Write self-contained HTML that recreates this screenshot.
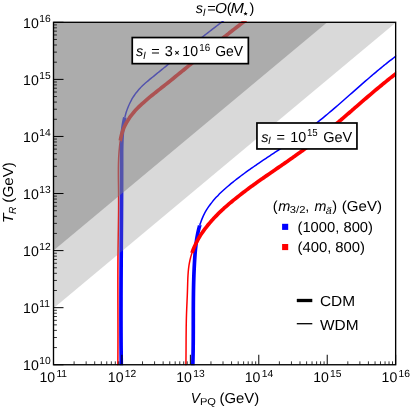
<!DOCTYPE html>
<html><head><meta charset="utf-8">
<style>
html,body{margin:0;padding:0;background:#fff;}
svg{display:block;will-change:transform;}
text{font-family:"Liberation Sans",sans-serif;fill:#000;text-rendering:geometricPrecision;}
</style></head>
<body>
<svg width="411" height="409" viewBox="0 0 411 409">
<rect x="0" y="0" width="411" height="409" fill="#fff"/>
<defs><clipPath id="pc"><rect x="53.00" y="21.30" width="343.15" height="343.95"/></clipPath></defs>
<g clip-path="url(#pc)">
<path d="M117.82,365.98 C117.83,365.48 117.84,363.97 117.85,362.97 C117.86,361.97 117.87,360.97 117.88,359.97 C117.88,358.97 117.89,357.97 117.90,356.97 C117.90,355.97 117.91,354.97 117.92,353.96 C117.92,352.96 117.93,351.96 117.93,350.96 C117.94,349.96 117.94,348.96 117.94,347.96 C117.95,346.96 117.95,345.96 117.95,344.96 C117.96,343.96 117.96,342.95 117.96,341.95 C117.96,340.95 117.96,339.95 117.96,338.95 C117.96,337.95 117.97,336.95 117.97,335.95 C117.97,334.95 117.97,333.95 117.97,332.95 C117.97,331.94 117.97,330.94 117.96,329.94 C117.96,328.94 117.96,327.94 117.96,326.94 C117.96,325.94 117.96,324.94 117.96,323.94 C117.96,322.94 117.95,321.94 117.95,320.93 C117.95,319.93 117.95,318.93 117.95,317.93 C117.94,316.93 117.94,315.93 117.94,314.93 C117.94,313.93 117.93,312.93 117.93,311.93 C117.93,310.93 117.93,309.92 117.93,308.92 C117.92,307.92 117.92,306.92 117.92,305.92 C117.92,304.92 117.91,303.92 117.91,302.92 C117.91,301.92 117.91,300.92 117.90,299.92 C117.90,298.91 117.90,297.91 117.90,296.91 C117.90,295.91 117.89,294.91 117.89,293.91 C117.89,292.91 117.89,291.91 117.89,290.91 C117.89,289.91 117.89,288.91 117.89,287.90 C117.88,286.90 117.88,285.90 117.88,284.90 C117.88,283.90 117.88,282.90 117.88,281.90 C117.88,280.90 117.88,279.90 117.89,278.90 C117.89,277.90 117.89,276.89 117.89,275.89 C117.89,274.89 117.89,273.89 117.90,272.89 C117.90,271.89 117.90,270.89 117.90,269.89 C117.91,268.89 117.91,267.89 117.92,266.89 C117.92,265.88 117.92,264.88 117.93,263.88 C117.94,262.88 117.94,261.88 117.95,260.88 C117.95,259.88 117.96,258.88 117.97,257.88 C117.98,256.88 117.98,255.88 117.99,254.87 C118.00,253.87 118.01,252.87 118.02,251.87 C118.03,250.87 118.04,249.87 118.05,248.87 C118.06,247.87 118.08,246.87 118.09,245.87 C118.10,244.87 118.11,243.87 118.13,242.86 C118.14,241.86 118.16,240.86 118.17,239.86 C118.19,238.86 118.20,237.86 118.22,236.86 C118.23,235.86 118.25,234.86 118.26,233.86 C118.28,232.86 118.29,231.86 118.31,230.85 C118.33,229.85 118.34,228.85 118.36,227.85 C118.37,226.85 118.39,225.85 118.40,224.85 C118.42,223.85 118.43,222.85 118.44,221.85 C118.46,220.85 118.47,219.85 118.48,218.85 C118.50,217.84 118.51,216.84 118.52,215.84 C118.53,214.84 118.54,213.84 118.55,212.84 C118.56,211.84 118.57,210.84 118.58,209.84 C118.58,208.84 118.59,207.84 118.59,206.83 C118.60,205.83 118.60,204.83 118.61,203.83 C118.61,202.83 118.61,201.83 118.61,200.83 C118.61,199.83 118.61,198.83 118.60,197.83 C118.60,196.83 118.59,195.82 118.59,194.82 C118.58,193.82 118.57,192.82 118.56,191.82 C118.55,190.82 118.54,189.82 118.53,188.82 C118.51,187.82 118.50,186.82 118.49,185.82 C118.47,184.82 118.46,183.81 118.45,182.81 C118.43,181.81 118.42,180.81 118.41,179.81 C118.40,178.81 118.39,177.81 118.38,176.81 C118.38,175.81 118.37,174.81 118.37,173.81 C118.37,172.80 118.37,171.80 118.37,170.80 C118.37,169.80 118.38,168.80 118.39,167.80 C118.40,166.80 118.42,165.80 118.44,164.80 C118.46,163.80 118.49,162.80 118.52,161.80 C118.55,160.80 118.59,159.80 118.63,158.80 C118.67,157.80 118.72,156.80 118.78,155.80 C118.84,154.80 118.90,153.80 118.97,152.80 C119.05,151.80 119.12,150.80 119.21,149.81 C119.30,148.81 119.40,147.81 119.50,146.82 C119.61,145.82 119.73,144.81 119.85,143.84 C119.98,142.87 120.20,141.47 120.26,141.00" fill="none" stroke="#ff0000" stroke-width="1.50" stroke-linecap="butt" stroke-linejoin="round"/>
<path d="M121.28,366.14 C121.27,365.64 121.25,364.14 121.24,363.14 C121.23,362.13 121.22,361.13 121.21,360.13 C121.20,359.13 121.19,358.13 121.18,357.13 C121.17,356.13 121.16,355.13 121.15,354.13 C121.14,353.13 121.13,352.13 121.12,351.12 C121.11,350.12 121.10,349.12 121.09,348.12 C121.09,347.12 121.08,346.12 121.07,345.12 C121.07,344.12 121.06,343.12 121.05,342.12 C121.05,341.11 121.04,340.11 121.04,339.11 C121.03,338.11 121.03,337.11 121.02,336.11 C121.02,335.11 121.01,334.11 121.01,333.11 C121.00,332.11 121.00,331.10 121.00,330.10 C120.99,329.10 120.99,328.10 120.99,327.10 C120.98,326.10 120.98,325.10 120.98,324.10 C120.98,323.10 120.98,322.10 120.98,321.09 C120.97,320.09 120.97,319.09 120.97,318.09 C120.97,317.09 120.97,316.09 120.97,315.09 C120.97,314.09 120.97,313.09 120.97,312.09 C120.97,311.08 120.97,310.08 120.97,309.08 C120.97,308.08 120.97,307.08 120.98,306.08 C120.98,305.08 120.98,304.08 120.98,303.08 C120.98,302.08 120.98,301.07 120.99,300.07 C120.99,299.07 120.99,298.07 120.99,297.07 C121.00,296.07 121.00,295.07 121.00,294.07 C121.01,293.07 121.01,292.07 121.01,291.06 C121.02,290.06 121.02,289.06 121.02,288.06 C121.03,287.06 121.03,286.06 121.04,285.06 C121.04,284.06 121.05,283.06 121.05,282.06 C121.06,281.05 121.06,280.05 121.06,279.05 C121.07,278.05 121.08,277.05 121.08,276.05 C121.09,275.05 121.09,274.05 121.10,273.05 C121.10,272.05 121.11,271.04 121.11,270.04 C121.12,269.04 121.12,268.04 121.13,267.04 C121.14,266.04 121.14,265.04 121.15,264.04 C121.16,263.04 121.16,262.04 121.17,261.03 C121.17,260.03 121.18,259.03 121.19,258.03 C121.19,257.03 121.20,256.03 121.21,255.03 C121.21,254.03 121.22,253.03 121.23,252.03 C121.23,251.02 121.24,250.02 121.25,249.02 C121.25,248.02 121.26,247.02 121.27,246.02 C121.27,245.02 121.28,244.02 121.29,243.02 C121.29,242.02 121.30,241.01 121.31,240.01 C121.31,239.01 121.32,238.01 121.33,237.01 C121.34,236.01 121.34,235.01 121.35,234.01 C121.36,233.01 121.36,232.01 121.37,231.00 C121.38,230.00 121.38,229.00 121.39,228.00 C121.40,227.00 121.40,226.00 121.41,225.00 C121.42,224.00 121.42,223.00 121.43,222.00 C121.44,221.00 121.44,219.99 121.45,218.99 C121.45,217.99 121.46,216.99 121.47,215.99 C121.47,214.99 121.48,213.99 121.48,212.99 C121.49,211.99 121.50,210.99 121.50,209.98 C121.51,208.98 121.51,207.98 121.52,206.98 C121.52,205.98 121.53,204.98 121.54,203.98 C121.54,202.98 121.55,201.98 121.55,200.98 C121.56,199.97 121.56,198.97 121.56,197.97 C121.57,196.97 121.57,195.97 121.58,194.97 C121.58,193.97 121.59,192.97 121.59,191.97 C121.59,190.97 121.60,189.96 121.60,188.96 C121.61,187.96 121.61,186.96 121.61,185.96 C121.61,184.96 121.62,183.96 121.62,182.96 C121.62,181.96 121.63,180.96 121.63,179.95 C121.63,178.95 121.63,177.95 121.63,176.95 C121.64,175.95 121.64,174.95 121.64,173.95 C121.64,172.95 121.64,171.95 121.64,170.95 C121.64,169.94 121.64,168.94 121.64,167.94 C121.65,166.94 121.65,165.94 121.65,164.94 C121.65,163.94 121.64,162.94 121.64,161.94 C121.64,160.94 121.64,159.93 121.64,158.93 C121.64,157.93 121.64,156.93 121.64,155.93 C121.64,154.93 121.64,153.93 121.64,152.93 C121.65,151.93 121.65,150.93 121.66,149.92 C121.67,148.92 121.68,147.92 121.70,146.92 C121.72,145.92 121.74,144.92 121.77,143.92 C121.80,142.92 121.83,141.92 121.87,140.92 C121.91,139.92 121.96,138.92 122.02,137.92 C122.07,136.92 122.14,135.92 122.21,134.92 C122.29,133.92 122.37,132.93 122.47,131.93 C122.56,130.93 122.67,129.94 122.79,128.94 C122.90,127.95 123.03,126.96 123.18,125.97 C123.32,124.98 123.48,123.99 123.65,123.00 C123.83,122.02 124.02,120.99 124.22,120.05 C124.41,119.12 124.72,117.84 124.82,117.40" fill="none" stroke="#0000ff" stroke-width="3.70" stroke-linecap="butt" stroke-linejoin="round"/>
<path d="M124.82,117.40 C124.83,117.35 124.74,117.65 124.88,117.12 C125.02,116.59 125.38,115.18 125.65,114.22 C125.93,113.26 126.22,112.30 126.54,111.35 C126.85,110.40 127.18,109.46 127.54,108.52 C127.89,107.58 128.27,106.65 128.66,105.74 C129.05,104.82 129.47,103.90 129.91,103.00 C130.34,102.10 130.80,101.21 131.28,100.33 C131.76,99.45 132.26,98.59 132.78,97.73 C133.30,96.88 133.85,96.04 134.41,95.21 C134.98,94.38 135.56,93.57 136.17,92.78 C136.78,91.98 137.41,91.20 138.06,90.44 C138.71,89.68 139.38,88.94 140.07,88.22 C140.76,87.49 141.47,86.78 142.19,86.08 C142.90,85.39 143.64,84.70 144.38,84.03 C145.12,83.36 145.87,82.70 146.63,82.04 C147.39,81.39 148.15,80.75 148.92,80.11 C149.69,79.46 150.47,78.83 151.24,78.20 C152.02,77.56 152.79,76.93 153.57,76.30 C154.35,75.67 155.12,75.04 155.90,74.41 C156.68,73.77 157.45,73.14 158.23,72.51 C159.01,71.88 159.78,71.25 160.56,70.62 C161.34,69.98 162.11,69.35 162.89,68.72 C163.67,68.09 164.44,67.46 165.22,66.83 C166.00,66.19 166.77,65.56 167.55,64.93 C168.33,64.30 169.10,63.67 169.88,63.04 C170.66,62.41 171.44,61.78 172.21,61.15 C172.99,60.52 173.77,59.89 174.55,59.26 C175.33,58.63 176.10,58.00 176.88,57.37 C177.66,56.74 178.44,56.11 179.22,55.48 C180.00,54.86 180.78,54.23 181.56,53.60 C182.34,52.97 183.12,52.34 183.90,51.72 C184.68,51.09 185.46,50.46 186.24,49.84 C187.02,49.21 187.80,48.59 188.58,47.96 C189.37,47.34 190.15,46.71 190.93,46.09 C191.71,45.46 192.50,44.84 193.28,44.22 C194.06,43.59 194.85,42.97 195.63,42.35 C196.42,41.73 197.20,41.11 197.99,40.49 C198.77,39.87 199.56,39.25 200.34,38.63 C201.13,38.01 201.92,37.39 202.71,36.77 C203.49,36.15 204.28,35.54 205.07,34.92 C205.86,34.30 206.65,33.69 207.44,33.07 C208.23,32.46 209.02,31.85 209.81,31.23 C210.60,30.62 211.40,30.01 212.19,29.40 C212.98,28.79 213.77,28.17 214.57,27.57 C215.36,26.96 216.16,26.35 216.95,25.74 C217.75,25.13 218.54,24.53 219.34,23.92 C220.14,23.31 220.94,22.71 221.73,22.11 C222.53,21.50 223.33,20.90 224.13,20.30 C224.93,19.70 226.13,18.80 226.54,18.50" fill="none" stroke="#0000ff" stroke-width="1.50" stroke-linecap="butt" stroke-linejoin="round"/>
<path d="M120.26,141.00 C120.27,140.98 120.19,141.38 120.28,140.86 C120.38,140.35 120.62,138.89 120.82,137.91 C121.02,136.93 121.24,135.95 121.49,134.98 C121.73,134.01 122.01,133.05 122.31,132.10 C122.62,131.14 122.95,130.20 123.32,129.27 C123.68,128.33 124.07,127.41 124.49,126.50 C124.91,125.60 125.36,124.70 125.83,123.82 C126.30,122.93 126.80,122.06 127.31,121.21 C127.83,120.35 128.37,119.50 128.93,118.67 C129.48,117.84 130.06,117.03 130.66,116.22 C131.25,115.42 131.87,114.63 132.50,113.85 C133.13,113.07 133.77,112.31 134.43,111.55 C135.09,110.80 135.76,110.06 136.45,109.33 C137.13,108.60 137.83,107.88 138.54,107.17 C139.24,106.46 139.96,105.76 140.69,105.07 C141.41,104.38 142.15,103.70 142.89,103.03 C143.63,102.36 144.38,101.69 145.13,101.04 C145.89,100.38 146.65,99.73 147.41,99.08 C148.18,98.44 148.95,97.80 149.72,97.16 C150.49,96.53 151.27,95.90 152.05,95.27 C152.83,94.64 153.61,94.02 154.40,93.39 C155.18,92.77 155.97,92.15 156.75,91.53 C157.54,90.91 158.33,90.29 159.11,89.67 C159.90,89.06 160.68,88.44 161.47,87.82 C162.26,87.20 163.04,86.57 163.82,85.95 C164.61,85.33 165.39,84.71 166.17,84.08 C166.96,83.46 167.74,82.83 168.52,82.21 C169.30,81.58 170.08,80.95 170.86,80.33 C171.64,79.70 172.42,79.07 173.20,78.44 C173.98,77.81 174.76,77.18 175.53,76.55 C176.31,75.92 177.09,75.29 177.87,74.66 C178.64,74.03 179.42,73.40 180.20,72.77 C180.97,72.14 181.75,71.51 182.52,70.87 C183.30,70.24 184.07,69.61 184.85,68.97 C185.62,68.34 186.40,67.71 187.17,67.07 C187.95,66.44 188.72,65.81 189.50,65.17 C190.27,64.54 191.05,63.90 191.82,63.27 C192.60,62.64 193.37,62.00 194.14,61.37 C194.92,60.73 195.69,60.10 196.47,59.46 C197.24,58.83 198.02,58.20 198.79,57.56 C199.56,56.93 200.34,56.29 201.11,55.66 C201.89,55.03 202.66,54.39 203.44,53.76 C204.21,53.13 204.99,52.49 205.77,51.86 C206.54,51.23 207.32,50.60 208.09,49.96 C208.87,49.33 209.65,48.70 210.42,48.07 C211.20,47.44 211.98,46.81 212.76,46.18 C213.54,45.55 214.31,44.92 215.09,44.29 C215.87,43.67 216.65,43.04 217.43,42.41 C218.21,41.78 218.99,41.16 219.77,40.53 C220.56,39.91 221.34,39.28 222.12,38.66 C222.90,38.03 223.69,37.41 224.47,36.79 C225.26,36.17 226.04,35.55 226.83,34.93 C227.61,34.31 228.40,33.69 229.19,33.07 C229.97,32.45 230.76,31.83 231.55,31.22 C232.34,30.60 233.13,29.99 233.92,29.37 C234.71,28.76 235.50,28.15 236.30,27.54 C237.09,26.93 237.88,26.32 238.68,25.71 C239.47,25.10 240.27,24.49 241.06,23.89 C241.86,23.28 242.66,22.68 243.46,22.08 C244.26,21.47 245.46,20.57 245.86,20.27" fill="none" stroke="#ff0000" stroke-width="3.70" stroke-linecap="butt" stroke-linejoin="round"/>
<path d="M185.87,365.96 C185.88,365.46 185.90,363.96 185.92,362.96 C185.94,361.96 185.95,360.96 185.96,359.95 C185.97,358.95 185.98,357.95 185.99,356.95 C186.00,355.95 186.01,354.95 186.02,353.95 C186.03,352.94 186.03,351.94 186.04,350.94 C186.05,349.94 186.05,348.94 186.06,347.94 C186.06,346.94 186.07,345.94 186.07,344.93 C186.08,343.93 186.08,342.93 186.09,341.93 C186.09,340.93 186.10,339.93 186.10,338.93 C186.11,337.92 186.12,336.92 186.12,335.92 C186.13,334.92 186.14,333.92 186.15,332.92 C186.16,331.92 186.17,330.92 186.18,329.91 C186.19,328.91 186.20,327.91 186.21,326.91 C186.23,325.91 186.24,324.91 186.26,323.91 C186.28,322.91 186.30,321.90 186.32,320.90 C186.34,319.90 186.37,318.90 186.39,317.90 C186.42,316.90 186.45,315.90 186.48,314.90 C186.52,313.90 186.55,312.90 186.59,311.89 C186.63,310.89 186.67,309.89 186.71,308.89 C186.75,307.89 186.79,306.89 186.84,305.89 C186.88,304.89 186.92,303.89 186.97,302.89 C187.01,301.89 187.06,300.89 187.10,299.89 C187.15,298.89 187.19,297.89 187.23,296.89 C187.27,295.89 187.31,294.89 187.35,293.89 C187.39,292.89 187.42,291.88 187.46,290.88 C187.49,289.88 187.52,288.88 187.54,287.88 C187.57,286.88 187.60,285.88 187.63,284.88 C187.65,283.88 187.68,282.88 187.71,281.88 C187.75,280.87 187.78,279.87 187.82,278.87 C187.87,277.87 187.91,276.87 187.97,275.87 C188.03,274.87 188.09,273.87 188.17,272.88 C188.24,271.88 188.33,270.88 188.43,269.88 C188.53,268.89 188.65,267.89 188.78,266.90 C188.91,265.91 189.06,264.92 189.23,263.93 C189.40,262.94 189.59,261.96 189.80,260.98 C190.01,260.00 190.24,259.03 190.49,258.06 C190.74,257.09 191.05,256.01 191.30,255.16 C191.56,254.32 191.89,253.36 192.01,253.00" fill="none" stroke="#ff0000" stroke-width="1.50" stroke-linecap="butt" stroke-linejoin="round"/>
<path d="M192.78,366.10 C192.79,365.60 192.84,364.10 192.87,363.10 C192.90,362.10 192.92,361.10 192.95,360.09 C192.97,359.09 192.99,358.09 193.01,357.09 C193.03,356.09 193.05,355.08 193.07,354.08 C193.09,353.08 193.10,352.08 193.12,351.08 C193.13,350.07 193.15,349.07 193.16,348.07 C193.17,347.07 193.18,346.07 193.19,345.06 C193.20,344.06 193.21,343.06 193.22,342.06 C193.23,341.06 193.23,340.05 193.24,339.05 C193.25,338.05 193.25,337.05 193.25,336.05 C193.26,335.04 193.26,334.04 193.27,333.04 C193.27,332.04 193.27,331.04 193.27,330.03 C193.28,329.03 193.28,328.03 193.28,327.03 C193.28,326.02 193.28,325.02 193.28,324.02 C193.28,323.02 193.29,322.02 193.29,321.01 C193.29,320.01 193.29,319.01 193.29,318.01 C193.29,317.01 193.29,316.00 193.30,315.00 C193.30,314.00 193.30,313.00 193.30,312.00 C193.31,310.99 193.31,309.99 193.31,308.99 C193.32,307.99 193.32,306.99 193.33,305.98 C193.33,304.98 193.34,303.98 193.35,302.98 C193.35,301.97 193.36,300.97 193.37,299.97 C193.38,298.97 193.39,297.97 193.40,296.96 C193.41,295.96 193.42,294.96 193.44,293.96 C193.45,292.96 193.47,291.95 193.48,290.95 C193.50,289.95 193.52,288.95 193.54,287.95 C193.56,286.95 193.58,285.94 193.61,284.94 C193.63,283.94 193.66,282.94 193.68,281.94 C193.71,280.93 193.74,279.93 193.77,278.93 C193.80,277.93 193.83,276.93 193.87,275.93 C193.91,274.93 193.94,273.92 193.98,272.92 C194.02,271.92 194.07,270.92 194.11,269.92 C194.16,268.92 194.20,267.92 194.25,266.92 C194.30,265.92 194.36,264.91 194.41,263.91 C194.47,262.91 194.52,261.91 194.58,260.91 C194.64,259.91 194.71,258.91 194.77,257.91 C194.84,256.91 194.91,255.91 194.98,254.91 C195.06,253.91 195.14,252.92 195.22,251.92 C195.31,250.92 195.40,249.92 195.49,248.92 C195.59,247.93 195.69,246.93 195.81,245.93 C195.92,244.94 196.04,243.94 196.17,242.95 C196.30,241.95 196.44,240.96 196.58,239.97 C196.73,238.98 196.89,237.99 197.06,237.00 C197.24,236.02 197.42,235.03 197.62,234.05 C197.81,233.07 198.02,232.09 198.25,231.11 C198.47,230.13 198.71,229.16 198.97,228.19 C199.22,227.22 199.64,225.80 199.78,225.30 C199.92,224.80 199.81,225.22 199.81,225.20" fill="none" stroke="#0000ff" stroke-width="3.70" stroke-linecap="butt" stroke-linejoin="round"/>
<path d="M199.81,225.20 C199.96,224.74 200.38,223.37 200.70,222.44 C201.03,221.50 201.37,220.55 201.74,219.61 C202.11,218.68 202.49,217.76 202.90,216.84 C203.31,215.93 203.74,215.02 204.19,214.13 C204.65,213.23 205.12,212.35 205.62,211.48 C206.11,210.61 206.63,209.75 207.17,208.90 C207.70,208.06 208.26,207.22 208.83,206.40 C209.40,205.58 209.99,204.77 210.60,203.97 C211.20,203.17 211.82,202.38 212.46,201.61 C213.09,200.83 213.74,200.07 214.40,199.31 C215.06,198.56 215.73,197.81 216.41,197.08 C217.10,196.35 217.79,195.62 218.49,194.91 C219.20,194.19 219.91,193.49 220.63,192.79 C221.35,192.10 222.08,191.41 222.81,190.73 C223.55,190.05 224.29,189.38 225.04,188.71 C225.79,188.05 226.55,187.39 227.31,186.74 C228.07,186.08 228.84,185.44 229.61,184.80 C230.38,184.16 231.15,183.52 231.93,182.89 C232.71,182.26 233.49,181.64 234.28,181.02 C235.07,180.39 235.86,179.78 236.65,179.16 C237.44,178.55 238.23,177.94 239.03,177.33 C239.83,176.72 240.63,176.12 241.43,175.52 C242.24,174.92 243.04,174.33 243.85,173.73 C244.66,173.14 245.47,172.55 246.28,171.96 C247.09,171.38 247.90,170.79 248.72,170.21 C249.54,169.63 250.35,169.05 251.17,168.47 C251.99,167.90 252.82,167.32 253.64,166.75 C254.46,166.18 255.29,165.61 256.11,165.04 C256.94,164.47 257.76,163.91 258.59,163.34 C259.42,162.78 260.25,162.22 261.08,161.66 C261.91,161.10 262.74,160.54 263.58,159.98 C264.41,159.42 265.24,158.86 266.07,158.31 C266.91,157.75 267.74,157.20 268.58,156.64 C269.41,156.09 270.25,155.53 271.08,154.98 C271.92,154.42 272.75,153.87 273.59,153.32 C274.42,152.77 275.26,152.21 276.09,151.66 C276.93,151.11 277.77,150.55 278.60,150.00 C279.44,149.45 280.27,148.89 281.11,148.34 C281.94,147.78 282.77,147.23 283.61,146.67 C284.44,146.11 285.27,145.56 286.11,145.00 C286.94,144.44 287.77,143.88 288.60,143.32 C289.43,142.76 290.26,142.20 291.09,141.63 C291.92,141.07 292.74,140.50 293.57,139.93 C294.39,139.37 295.22,138.80 296.04,138.22 C296.86,137.65 297.68,137.08 298.50,136.50 C299.32,135.92 300.14,135.34 300.96,134.76 C301.77,134.18 302.59,133.59 303.40,133.01 C304.21,132.42 305.02,131.83 305.83,131.23 C306.63,130.64 307.44,130.04 308.24,129.44 C309.04,128.84 309.84,128.24 310.64,127.63 C311.44,127.02 312.23,126.41 313.02,125.80 C313.82,125.19 314.61,124.57 315.39,123.95 C316.18,123.33 316.97,122.71 317.75,122.09 C318.53,121.46 319.32,120.83 320.10,120.20 C320.87,119.57 321.65,118.94 322.43,118.31 C323.20,117.67 323.98,117.04 324.75,116.40 C325.52,115.76 326.29,115.12 327.06,114.48 C327.83,113.83 328.60,113.19 329.36,112.54 C330.13,111.90 330.90,111.25 331.66,110.60 C332.42,109.95 333.18,109.30 333.94,108.65 C334.71,108.00 335.47,107.34 336.22,106.69 C336.98,106.03 337.74,105.38 338.50,104.72 C339.25,104.06 340.01,103.41 340.76,102.75 C341.52,102.09 342.27,101.43 343.03,100.77 C343.78,100.11 344.54,99.45 345.29,98.79 C346.04,98.13 346.79,97.46 347.55,96.80 C348.30,96.14 349.05,95.48 349.80,94.81 C350.55,94.15 351.30,93.49 352.06,92.83 C352.81,92.16 353.56,91.50 354.31,90.84 C355.06,90.17 355.81,89.51 356.57,88.85 C357.32,88.19 358.07,87.53 358.82,86.86 C359.58,86.20 360.33,85.54 361.08,84.88 C361.84,84.22 362.59,83.56 363.35,82.90 C364.10,82.24 364.86,81.59 365.62,80.93 C366.37,80.27 367.13,79.62 367.89,78.96 C368.65,78.31 369.41,77.65 370.17,77.00 C370.93,76.35 371.69,75.70 372.45,75.05 C373.22,74.40 373.98,73.75 374.75,73.11 C375.51,72.46 376.28,71.81 377.05,71.17 C377.82,70.53 378.59,69.89 379.36,69.25 C380.13,68.61 380.91,67.97 381.68,67.34 C382.46,66.71 383.24,66.07 384.01,65.44 C384.79,64.81 385.58,64.19 386.36,63.56 C387.14,62.94 387.93,62.31 388.72,61.70 C389.50,61.08 390.29,60.46 391.09,59.85 C391.88,59.23 392.67,58.62 393.47,58.01 C394.27,57.41 395.07,56.80 395.87,56.20 C396.67,55.60 397.88,54.71 398.28,54.41" fill="none" stroke="#0000ff" stroke-width="1.50" stroke-linecap="butt" stroke-linejoin="round"/>
<path d="M192.01,253.00 C192.04,252.88 192.02,252.89 192.23,252.31 C192.44,251.72 192.91,250.42 193.27,249.49 C193.64,248.56 194.02,247.63 194.42,246.72 C194.82,245.80 195.24,244.89 195.68,243.99 C196.11,243.08 196.56,242.19 197.03,241.30 C197.50,240.42 197.98,239.54 198.48,238.67 C198.98,237.80 199.49,236.94 200.02,236.09 C200.54,235.24 201.08,234.40 201.63,233.56 C202.19,232.73 202.75,231.90 203.33,231.08 C203.91,230.26 204.50,229.45 205.10,228.65 C205.70,227.85 206.31,227.06 206.93,226.27 C207.55,225.49 208.18,224.71 208.83,223.94 C209.47,223.17 210.12,222.41 210.78,221.66 C211.44,220.90 212.10,220.16 212.78,219.42 C213.46,218.68 214.14,217.95 214.83,217.22 C215.52,216.50 216.22,215.78 216.93,215.07 C217.63,214.36 218.34,213.65 219.06,212.96 C219.78,212.26 220.50,211.57 221.23,210.88 C221.96,210.19 222.70,209.51 223.44,208.84 C224.18,208.16 224.92,207.50 225.67,206.83 C226.42,206.17 227.17,205.51 227.93,204.85 C228.69,204.20 229.45,203.55 230.22,202.91 C230.98,202.26 231.75,201.62 232.53,200.99 C233.30,200.35 234.08,199.72 234.86,199.09 C235.64,198.46 236.42,197.83 237.20,197.21 C237.99,196.59 238.78,195.97 239.57,195.36 C240.36,194.74 241.15,194.13 241.94,193.52 C242.74,192.91 243.53,192.30 244.33,191.70 C245.13,191.09 245.93,190.49 246.73,189.89 C247.54,189.29 248.34,188.70 249.15,188.10 C249.95,187.51 250.76,186.92 251.57,186.33 C252.38,185.74 253.19,185.15 254.00,184.56 C254.81,183.98 255.63,183.39 256.44,182.81 C257.25,182.23 258.07,181.65 258.89,181.07 C259.70,180.49 260.52,179.91 261.34,179.33 C262.16,178.76 262.98,178.18 263.80,177.61 C264.62,177.04 265.44,176.46 266.26,175.89 C267.09,175.32 267.91,174.75 268.73,174.18 C269.56,173.61 270.38,173.04 271.20,172.47 C272.03,171.90 272.85,171.33 273.68,170.77 C274.50,170.20 275.33,169.63 276.15,169.06 C276.98,168.50 277.80,167.93 278.63,167.36 C279.45,166.79 280.28,166.23 281.10,165.66 C281.93,165.09 282.75,164.52 283.58,163.95 C284.40,163.39 285.23,162.82 286.05,162.25 C286.87,161.68 287.70,161.11 288.52,160.54 C289.34,159.96 290.16,159.39 290.98,158.82 C291.80,158.25 292.62,157.67 293.44,157.10 C294.26,156.52 295.08,155.94 295.90,155.36 C296.72,154.79 297.53,154.21 298.35,153.62 C299.16,153.04 299.98,152.46 300.79,151.87 C301.60,151.29 302.41,150.70 303.22,150.11 C304.03,149.52 304.84,148.93 305.64,148.34 C306.45,147.74 307.25,147.15 308.06,146.55 C308.86,145.95 309.66,145.35 310.46,144.74 C311.26,144.14 312.06,143.53 312.85,142.92 C313.64,142.31 314.44,141.70 315.23,141.09 C316.02,140.47 316.81,139.86 317.59,139.24 C318.38,138.62 319.16,137.99 319.95,137.37 C320.73,136.75 321.51,136.12 322.29,135.49 C323.07,134.86 323.85,134.23 324.63,133.60 C325.40,132.97 326.18,132.33 326.95,131.70 C327.72,131.06 328.50,130.42 329.27,129.78 C330.04,129.14 330.81,128.50 331.57,127.86 C332.34,127.22 333.11,126.57 333.88,125.93 C334.64,125.28 335.41,124.64 336.17,123.99 C336.93,123.34 337.70,122.69 338.46,122.04 C339.22,121.40 339.98,120.74 340.74,120.09 C341.50,119.44 342.26,118.79 343.02,118.14 C343.78,117.48 344.54,116.83 345.30,116.18 C346.06,115.52 346.81,114.87 347.57,114.21 C348.33,113.56 349.09,112.90 349.84,112.24 C350.60,111.59 351.36,110.93 352.11,110.28 C352.87,109.62 353.62,108.96 354.38,108.31 C355.14,107.65 355.89,106.99 356.65,106.34 C357.41,105.68 358.16,105.03 358.92,104.37 C359.68,103.72 360.43,103.06 361.19,102.41 C361.95,101.75 362.71,101.10 363.46,100.44 C364.22,99.79 364.98,99.13 365.74,98.48 C366.50,97.83 367.26,97.18 368.02,96.53 C368.78,95.88 369.54,95.23 370.31,94.58 C371.07,93.93 371.83,93.28 372.60,92.63 C373.36,91.99 374.13,91.34 374.89,90.70 C375.66,90.05 376.43,89.41 377.20,88.77 C377.97,88.13 378.74,87.49 379.51,86.85 C380.28,86.21 381.05,85.57 381.83,84.94 C382.60,84.30 383.38,83.67 384.15,83.04 C384.93,82.41 385.71,81.78 386.49,81.15 C387.27,80.52 388.05,79.90 388.84,79.28 C389.62,78.65 390.41,78.03 391.20,77.41 C391.98,76.80 392.77,76.18 393.57,75.57 C394.36,74.96 395.15,74.35 395.95,73.74 C396.75,73.13 397.94,72.23 398.34,71.93" fill="none" stroke="#ff0000" stroke-width="3.70" stroke-linecap="butt" stroke-linejoin="round"/>
<polygon points="53.50,308.13 396.20,22.30 53.50,22.30" fill="rgb(128,128,128)" fill-opacity="0.30"/>
<polygon points="53.50,250.60 327.22,22.30 53.50,22.30" fill="rgb(128,128,128)" fill-opacity="0.50"/>
</g>
<line x1="53.50" y1="364.75" x2="63.50" y2="364.75" stroke="#000" stroke-width="1"/>
<line x1="53.50" y1="347.57" x2="56.90" y2="347.57" stroke="#000" stroke-width="0.8"/>
<line x1="53.50" y1="337.52" x2="56.90" y2="337.52" stroke="#000" stroke-width="0.8"/>
<line x1="53.50" y1="330.39" x2="56.90" y2="330.39" stroke="#000" stroke-width="0.8"/>
<line x1="53.50" y1="324.86" x2="56.90" y2="324.86" stroke="#000" stroke-width="0.8"/>
<line x1="53.50" y1="320.34" x2="56.90" y2="320.34" stroke="#000" stroke-width="0.8"/>
<line x1="53.50" y1="316.52" x2="56.90" y2="316.52" stroke="#000" stroke-width="0.8"/>
<line x1="53.50" y1="313.21" x2="56.90" y2="313.21" stroke="#000" stroke-width="0.8"/>
<line x1="53.50" y1="310.29" x2="56.90" y2="310.29" stroke="#000" stroke-width="0.8"/>
<line x1="53.50" y1="307.68" x2="63.50" y2="307.68" stroke="#000" stroke-width="1"/>
<line x1="53.50" y1="290.49" x2="56.90" y2="290.49" stroke="#000" stroke-width="0.8"/>
<line x1="53.50" y1="280.44" x2="56.90" y2="280.44" stroke="#000" stroke-width="0.8"/>
<line x1="53.50" y1="273.31" x2="56.90" y2="273.31" stroke="#000" stroke-width="0.8"/>
<line x1="53.50" y1="267.78" x2="56.90" y2="267.78" stroke="#000" stroke-width="0.8"/>
<line x1="53.50" y1="263.26" x2="56.90" y2="263.26" stroke="#000" stroke-width="0.8"/>
<line x1="53.50" y1="259.44" x2="56.90" y2="259.44" stroke="#000" stroke-width="0.8"/>
<line x1="53.50" y1="256.13" x2="56.90" y2="256.13" stroke="#000" stroke-width="0.8"/>
<line x1="53.50" y1="253.21" x2="56.90" y2="253.21" stroke="#000" stroke-width="0.8"/>
<line x1="53.50" y1="250.60" x2="63.50" y2="250.60" stroke="#000" stroke-width="1"/>
<line x1="53.50" y1="233.42" x2="56.90" y2="233.42" stroke="#000" stroke-width="0.8"/>
<line x1="53.50" y1="223.37" x2="56.90" y2="223.37" stroke="#000" stroke-width="0.8"/>
<line x1="53.50" y1="216.24" x2="56.90" y2="216.24" stroke="#000" stroke-width="0.8"/>
<line x1="53.50" y1="210.71" x2="56.90" y2="210.71" stroke="#000" stroke-width="0.8"/>
<line x1="53.50" y1="206.19" x2="56.90" y2="206.19" stroke="#000" stroke-width="0.8"/>
<line x1="53.50" y1="202.37" x2="56.90" y2="202.37" stroke="#000" stroke-width="0.8"/>
<line x1="53.50" y1="199.06" x2="56.90" y2="199.06" stroke="#000" stroke-width="0.8"/>
<line x1="53.50" y1="196.14" x2="56.90" y2="196.14" stroke="#000" stroke-width="0.8"/>
<line x1="53.50" y1="193.53" x2="63.50" y2="193.53" stroke="#000" stroke-width="1"/>
<line x1="53.50" y1="176.34" x2="56.90" y2="176.34" stroke="#000" stroke-width="0.8"/>
<line x1="53.50" y1="166.29" x2="56.90" y2="166.29" stroke="#000" stroke-width="0.8"/>
<line x1="53.50" y1="159.16" x2="56.90" y2="159.16" stroke="#000" stroke-width="0.8"/>
<line x1="53.50" y1="153.63" x2="56.90" y2="153.63" stroke="#000" stroke-width="0.8"/>
<line x1="53.50" y1="149.11" x2="56.90" y2="149.11" stroke="#000" stroke-width="0.8"/>
<line x1="53.50" y1="145.29" x2="56.90" y2="145.29" stroke="#000" stroke-width="0.8"/>
<line x1="53.50" y1="141.98" x2="56.90" y2="141.98" stroke="#000" stroke-width="0.8"/>
<line x1="53.50" y1="139.06" x2="56.90" y2="139.06" stroke="#000" stroke-width="0.8"/>
<line x1="53.50" y1="136.45" x2="63.50" y2="136.45" stroke="#000" stroke-width="1"/>
<line x1="53.50" y1="119.27" x2="56.90" y2="119.27" stroke="#000" stroke-width="0.8"/>
<line x1="53.50" y1="109.22" x2="56.90" y2="109.22" stroke="#000" stroke-width="0.8"/>
<line x1="53.50" y1="102.09" x2="56.90" y2="102.09" stroke="#000" stroke-width="0.8"/>
<line x1="53.50" y1="96.56" x2="56.90" y2="96.56" stroke="#000" stroke-width="0.8"/>
<line x1="53.50" y1="92.04" x2="56.90" y2="92.04" stroke="#000" stroke-width="0.8"/>
<line x1="53.50" y1="88.22" x2="56.90" y2="88.22" stroke="#000" stroke-width="0.8"/>
<line x1="53.50" y1="84.91" x2="56.90" y2="84.91" stroke="#000" stroke-width="0.8"/>
<line x1="53.50" y1="81.99" x2="56.90" y2="81.99" stroke="#000" stroke-width="0.8"/>
<line x1="53.50" y1="79.38" x2="63.50" y2="79.38" stroke="#000" stroke-width="1"/>
<line x1="53.50" y1="62.19" x2="56.90" y2="62.19" stroke="#000" stroke-width="0.8"/>
<line x1="53.50" y1="52.14" x2="56.90" y2="52.14" stroke="#000" stroke-width="0.8"/>
<line x1="53.50" y1="45.01" x2="56.90" y2="45.01" stroke="#000" stroke-width="0.8"/>
<line x1="53.50" y1="39.48" x2="56.90" y2="39.48" stroke="#000" stroke-width="0.8"/>
<line x1="53.50" y1="34.96" x2="56.90" y2="34.96" stroke="#000" stroke-width="0.8"/>
<line x1="53.50" y1="31.14" x2="56.90" y2="31.14" stroke="#000" stroke-width="0.8"/>
<line x1="53.50" y1="27.83" x2="56.90" y2="27.83" stroke="#000" stroke-width="0.8"/>
<line x1="53.50" y1="24.91" x2="56.90" y2="24.91" stroke="#000" stroke-width="0.8"/>
<line x1="53.50" y1="22.30" x2="63.50" y2="22.30" stroke="#000" stroke-width="1"/>
<line x1="53.50" y1="364.75" x2="53.50" y2="354.75" stroke="#000" stroke-width="1"/>
<line x1="74.10" y1="364.75" x2="74.10" y2="361.35" stroke="#000" stroke-width="0.8"/>
<line x1="86.15" y1="364.75" x2="86.15" y2="361.35" stroke="#000" stroke-width="0.8"/>
<line x1="94.70" y1="364.75" x2="94.70" y2="361.35" stroke="#000" stroke-width="0.8"/>
<line x1="101.33" y1="364.75" x2="101.33" y2="361.35" stroke="#000" stroke-width="0.8"/>
<line x1="106.75" y1="364.75" x2="106.75" y2="361.35" stroke="#000" stroke-width="0.8"/>
<line x1="111.33" y1="364.75" x2="111.33" y2="361.35" stroke="#000" stroke-width="0.8"/>
<line x1="115.30" y1="364.75" x2="115.30" y2="361.35" stroke="#000" stroke-width="0.8"/>
<line x1="118.80" y1="364.75" x2="118.80" y2="361.35" stroke="#000" stroke-width="0.8"/>
<line x1="121.93" y1="364.75" x2="121.93" y2="354.75" stroke="#000" stroke-width="1"/>
<line x1="142.53" y1="364.75" x2="142.53" y2="361.35" stroke="#000" stroke-width="0.8"/>
<line x1="154.58" y1="364.75" x2="154.58" y2="361.35" stroke="#000" stroke-width="0.8"/>
<line x1="163.13" y1="364.75" x2="163.13" y2="361.35" stroke="#000" stroke-width="0.8"/>
<line x1="169.76" y1="364.75" x2="169.76" y2="361.35" stroke="#000" stroke-width="0.8"/>
<line x1="175.18" y1="364.75" x2="175.18" y2="361.35" stroke="#000" stroke-width="0.8"/>
<line x1="179.76" y1="364.75" x2="179.76" y2="361.35" stroke="#000" stroke-width="0.8"/>
<line x1="183.73" y1="364.75" x2="183.73" y2="361.35" stroke="#000" stroke-width="0.8"/>
<line x1="187.23" y1="364.75" x2="187.23" y2="361.35" stroke="#000" stroke-width="0.8"/>
<line x1="190.36" y1="364.75" x2="190.36" y2="354.75" stroke="#000" stroke-width="1"/>
<line x1="210.96" y1="364.75" x2="210.96" y2="361.35" stroke="#000" stroke-width="0.8"/>
<line x1="223.01" y1="364.75" x2="223.01" y2="361.35" stroke="#000" stroke-width="0.8"/>
<line x1="231.56" y1="364.75" x2="231.56" y2="361.35" stroke="#000" stroke-width="0.8"/>
<line x1="238.19" y1="364.75" x2="238.19" y2="361.35" stroke="#000" stroke-width="0.8"/>
<line x1="243.61" y1="364.75" x2="243.61" y2="361.35" stroke="#000" stroke-width="0.8"/>
<line x1="248.19" y1="364.75" x2="248.19" y2="361.35" stroke="#000" stroke-width="0.8"/>
<line x1="252.16" y1="364.75" x2="252.16" y2="361.35" stroke="#000" stroke-width="0.8"/>
<line x1="255.66" y1="364.75" x2="255.66" y2="361.35" stroke="#000" stroke-width="0.8"/>
<line x1="258.79" y1="364.75" x2="258.79" y2="354.75" stroke="#000" stroke-width="1"/>
<line x1="279.39" y1="364.75" x2="279.39" y2="361.35" stroke="#000" stroke-width="0.8"/>
<line x1="291.44" y1="364.75" x2="291.44" y2="361.35" stroke="#000" stroke-width="0.8"/>
<line x1="299.99" y1="364.75" x2="299.99" y2="361.35" stroke="#000" stroke-width="0.8"/>
<line x1="306.62" y1="364.75" x2="306.62" y2="361.35" stroke="#000" stroke-width="0.8"/>
<line x1="312.04" y1="364.75" x2="312.04" y2="361.35" stroke="#000" stroke-width="0.8"/>
<line x1="316.62" y1="364.75" x2="316.62" y2="361.35" stroke="#000" stroke-width="0.8"/>
<line x1="320.59" y1="364.75" x2="320.59" y2="361.35" stroke="#000" stroke-width="0.8"/>
<line x1="324.09" y1="364.75" x2="324.09" y2="361.35" stroke="#000" stroke-width="0.8"/>
<line x1="327.22" y1="364.75" x2="327.22" y2="354.75" stroke="#000" stroke-width="1"/>
<line x1="347.82" y1="364.75" x2="347.82" y2="361.35" stroke="#000" stroke-width="0.8"/>
<line x1="359.87" y1="364.75" x2="359.87" y2="361.35" stroke="#000" stroke-width="0.8"/>
<line x1="368.42" y1="364.75" x2="368.42" y2="361.35" stroke="#000" stroke-width="0.8"/>
<line x1="375.05" y1="364.75" x2="375.05" y2="361.35" stroke="#000" stroke-width="0.8"/>
<line x1="380.47" y1="364.75" x2="380.47" y2="361.35" stroke="#000" stroke-width="0.8"/>
<line x1="385.05" y1="364.75" x2="385.05" y2="361.35" stroke="#000" stroke-width="0.8"/>
<line x1="389.02" y1="364.75" x2="389.02" y2="361.35" stroke="#000" stroke-width="0.8"/>
<line x1="392.52" y1="364.75" x2="392.52" y2="361.35" stroke="#000" stroke-width="0.8"/>
<line x1="395.65" y1="364.75" x2="395.65" y2="354.75" stroke="#000" stroke-width="1"/>
<rect x="53.50" y="22.30" width="342.15" height="342.45" fill="none" stroke="#000" stroke-width="1.35"/>
<text x="38.8" y="370.05" text-anchor="end" font-size="14.1">10</text>
<text x="39.3" y="364.05" font-size="10.3">10</text>
<text x="38.8" y="312.98" text-anchor="end" font-size="14.1">10</text>
<text x="39.3" y="306.98" font-size="10.3">11</text>
<text x="38.8" y="255.90" text-anchor="end" font-size="14.1">10</text>
<text x="39.3" y="249.90" font-size="10.3">12</text>
<text x="38.8" y="198.83" text-anchor="end" font-size="14.1">10</text>
<text x="39.3" y="192.83" font-size="10.3">13</text>
<text x="38.8" y="141.75" text-anchor="end" font-size="14.1">10</text>
<text x="39.3" y="135.75" font-size="10.3">14</text>
<text x="38.8" y="84.67" text-anchor="end" font-size="14.1">10</text>
<text x="39.3" y="78.67" font-size="10.3">15</text>
<text x="38.8" y="27.60" text-anchor="end" font-size="14.1">10</text>
<text x="39.3" y="21.60" font-size="10.3">16</text>
<text x="55.10" y="382.4" text-anchor="end" font-size="14.1">10</text>
<text x="56.40" y="376.7" font-size="10.3">11</text>
<text x="123.53" y="382.4" text-anchor="end" font-size="14.1">10</text>
<text x="124.83" y="376.7" font-size="10.3">12</text>
<text x="191.96" y="382.4" text-anchor="end" font-size="14.1">10</text>
<text x="193.26" y="376.7" font-size="10.3">13</text>
<text x="260.39" y="382.4" text-anchor="end" font-size="14.1">10</text>
<text x="261.69" y="376.7" font-size="10.3">14</text>
<text x="328.82" y="382.4" text-anchor="end" font-size="14.1">10</text>
<text x="330.12" y="376.7" font-size="10.3">15</text>
<text x="397.25" y="382.4" text-anchor="end" font-size="14.1">10</text>
<text x="398.55" y="376.7" font-size="10.3">16</text>
<text x="195.66" y="13.10" font-size="14.50" font-style="italic">s</text>
<text x="202.86" y="15.60" font-size="10.40" font-style="italic">I</text>
<text x="207.17" y="13.10" font-size="14.50">=</text>
<text transform="translate(214.97,13.10) scale(1.060,1)" font-size="14.50" font-style="italic">O</text>
<text x="226.77" y="13.10" font-size="14.50">(</text>
<text transform="translate(230.52,13.10) scale(1.108,1)" font-size="14.50" font-style="italic">M</text>
<polygon points="245.55,11.40 246.11,12.93 247.74,12.99 246.45,13.99 246.90,15.56 245.55,14.65 244.20,15.56 244.65,13.99 243.36,12.99 244.99,12.93" fill="#000"/>
<text x="249.40" y="13.10" font-size="14.50">)</text>
<rect x="132.25" y="37.55" width="116.1" height="26.1" fill="#fff" stroke="#000" stroke-width="1.7"/>
<text x="136.01" y="56.40" font-size="14.50" font-style="italic">s</text>
<text x="142.91" y="58.90" font-size="10.40" font-style="italic">I</text>
<text x="151.32" y="56.40" font-size="14.50">=</text>
<text x="164.66" y="56.40" font-size="14.50">3</text>
<path d="M175.3,51.1 L178.7,54.5 M178.7,51.1 L175.3,54.5" stroke="#000" stroke-width="1.05" fill="none"/>
<text transform="translate(182.33,56.40) scale(0.974,1)" font-size="14.50">10</text>
<text transform="translate(199.36,50.50) scale(0.948,1)" font-size="10.30">16</text>
<text transform="translate(215.20,56.40) scale(0.963,1)" font-size="14.50">GeV</text>
<rect x="256.95" y="123.0" width="100.0" height="25.95" fill="#fff" stroke="#000" stroke-width="1.7"/>
<text x="261.16" y="141.70" font-size="14.50" font-style="italic">s</text>
<text x="268.11" y="144.20" font-size="10.40" font-style="italic">I</text>
<text x="276.52" y="141.70" font-size="14.50">=</text>
<text transform="translate(290.21,141.70) scale(0.988,1)" font-size="14.50">10</text>
<text transform="translate(306.95,135.60) scale(0.940,1)" font-size="10.30">15</text>
<text x="323.18" y="141.70" font-size="14.50">GeV</text>
<text x="272.87" y="210.90" font-size="14.50">(</text>
<text x="278.27" y="210.90" font-size="14.50" font-style="italic">m</text>
<text transform="translate(289.83,213.20) scale(1.120,1)" font-size="10.00">3/2</text>
<text x="305.19" y="210.90" font-size="14.50">,</text>
<text transform="translate(314.47,210.90) scale(0.984,1)" font-size="14.50" font-style="italic">m</text>
<text x="325.82" y="213.90" font-size="10.60" font-style="italic">a</text>
<text x="327.26" y="209.50" font-size="8.00">~</text>
<text x="332.35" y="210.90" font-size="14.50">)</text>
<text transform="translate(341.77,210.90) scale(1.039,1)" font-size="14.50">(GeV)</text>
<rect x="282.1" y="223.8" width="6.1" height="6.1" fill="#0000ff"/>
<text transform="translate(297.48,231.80) scale(1.018,1)" font-size="14.50">(1000, 800)</text>
<rect x="282.1" y="244.0" width="6.1" height="6.1" fill="#ff0000"/>
<text transform="translate(297.48,252.00) scale(1.022,1)" font-size="14.50">(400, 800)</text>
<line x1="296.8" y1="300.5" x2="312.3" y2="300.5" stroke="#000" stroke-width="3.3"/>
<text transform="translate(319.93,305.80) scale(1.064,1)" font-size="14.50">CDM</text>
<line x1="296.8" y1="323.7" x2="312.3" y2="323.7" stroke="#000" stroke-width="1.3"/>
<text transform="translate(320.04,329.50) scale(1.063,1)" font-size="14.50">WDM</text>
<text transform="translate(190.81,403.30) scale(0.952,1)" font-size="14.50" font-style="italic">V</text>
<text transform="translate(199.89,405.30) scale(1.110,1)" font-size="10.00">PQ</text>
<text transform="translate(219.58,403.30) scale(1.025,1)" font-size="14.50">(GeV)</text>
<g transform="translate(0,221.8) rotate(-90)">
<text transform="translate(-1.42,12.90) scale(1.104,1)" font-size="14.50" font-style="italic">T</text>
<text x="7.78" y="15.90" font-size="10.30" font-style="italic">R</text>
<text transform="translate(19.16,12.90) scale(1.047,1)" font-size="14.50">(GeV)</text>
</g>
</svg>
</body></html>
